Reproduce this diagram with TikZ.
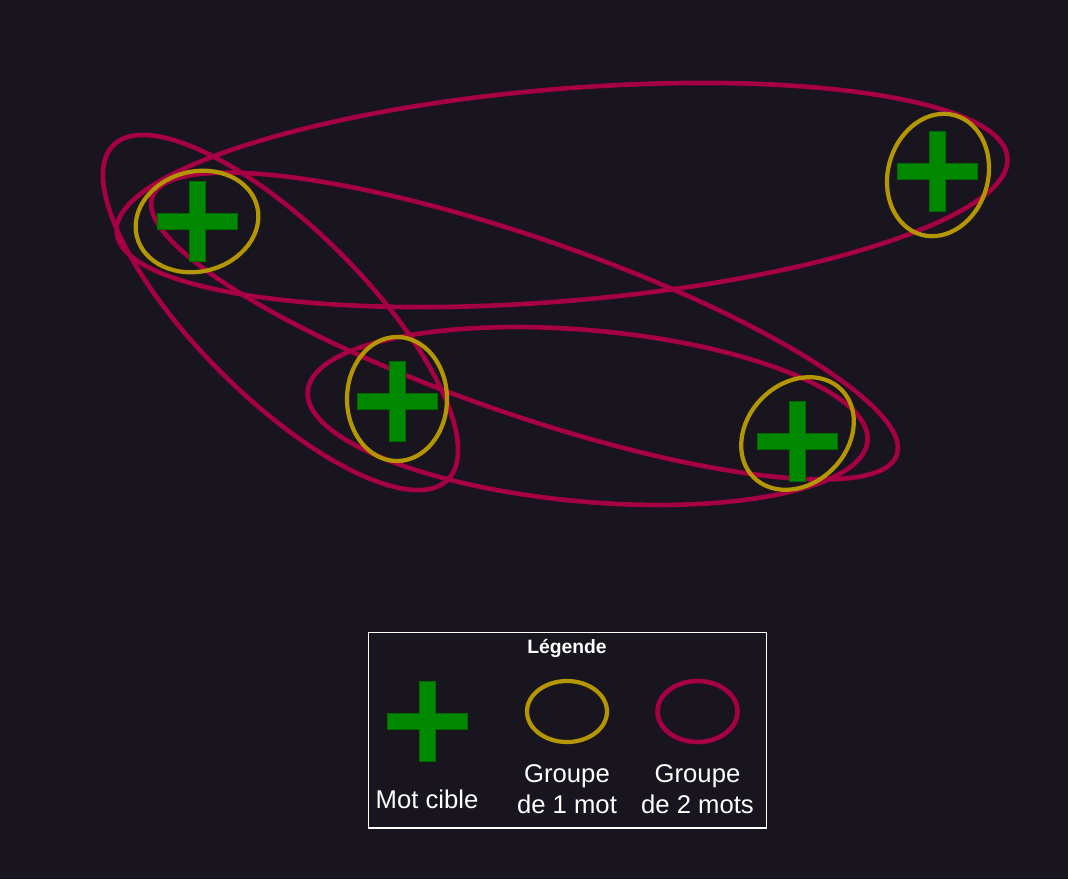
\documentclass[tikz,border=0pt]{standalone}
\usepackage{fontspec}
\setmainfont{Liberation Sans}
\definecolor{fond}{HTML}{18151F}
\definecolor{rouge}{HTML}{A50044}
\definecolor{jaune}{HTML}{B49600}
\definecolor{vert}{HTML}{008800}
\definecolor{vertfonce}{HTML}{006A00}
\tikzset{
  grpun/.style={draw=jaune, line width=2.4pt},
  grpdeux/.style={draw=rouge, line width=2.65pt},
  cible/.style={fill=vert, draw=vertfonce, line width=0.5pt},
  lbl/.style={text=white, font=\fontsize{14.6}{17.6}\selectfont, align=center, inner sep=0pt},
  titre/.style={text=white, font=\fontsize{11}{13}\selectfont\bfseries, inner sep=0pt},
  cadre/.style={draw=white, line width=0.6pt, minimum width=7.98cm, minimum height=3.92cm, inner sep=0pt},
  motcible/.pic={
    \path[cible] (-8,40) -- (8,40) -- (8,8) -- (40,8) -- (40,-8) -- (8,-8) -- (8,-40)
      -- (-8,-40) -- (-8,-8) -- (-40,-8) -- (-40,8) -- (-8,8) -- cycle;
  },
}

\begin{document}
\begin{tikzpicture}[x=0.02cm, y=0.02cm]

\fill[fond] (0,0) rectangle (1068,-879);
\useasboundingbox (0,0) rectangle (1068,-879);

\coordinate (m1) at (197,-221);
\coordinate (m2) at (937,-171);
\coordinate (m3) at (397,-401);
\coordinate (m4) at (797,-441);

% groupes de 2 mots
\foreach \cx/\cy/\ra/\rb/\ang in {562/195/447/106/4.8, 524.5/326/394/88/-19.1,
    280.5/312.5/236.5/84.3/-45, 587.6/416/281/85.7/-5.1} {
  \draw[grpdeux, rotate around={\ang:(\cx,-\cy)}] (\cx,-\cy) ellipse [x radius=\ra, y radius=\rb];
}

% groupes de 1 mot
\foreach \cx/\cy/\ang in {197/221.5/14, 938/175/74, 397/399/90, 797.5/433.5/45} {
  \draw[grpun, rotate around={\ang:(\cx,-\cy)}] (\cx,-\cy) ellipse [x radius=62, y radius=50];
}

\foreach \m in {m1,m2,m3,m4} {
  \pic at (\m) {motcible};
}

% legende
\node[cadre] (legende) at (567.5,-730) {};
\node[titre, anchor=base] (titre) at (567,-653) {Légende};

\pic at (427,-721) {motcible};
\draw[grpun] (567,-711.5) ellipse [x radius=40, y radius=30.5];
\draw[grpdeux] (697.5,-711.5) ellipse [x radius=40, y radius=30.5];

\node[lbl, anchor=base] (lcible) at (427,-808) {Mot cible};
\node[lbl, anchor=base] (lun) at (567,-813) {Groupe\\de 1 mot};
\node[lbl, anchor=base] (ldeux) at (697.5,-813) {Groupe\\de 2 mots};

\end{tikzpicture}
\end{document}
